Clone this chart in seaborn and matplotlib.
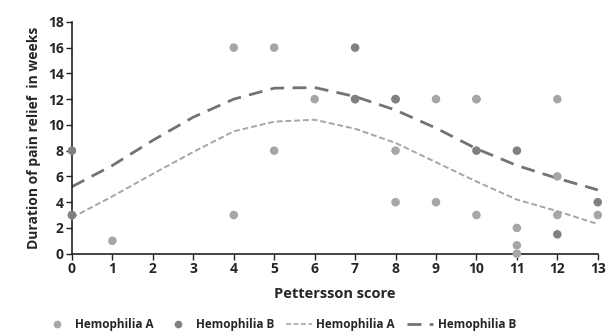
import matplotlib
matplotlib.use("Agg")
import matplotlib.pyplot as plt
import seaborn as sns
import pandas as pd
from matplotlib.lines import Line2D

# Scatter data
hemA_x = [0, 1, 4, 4, 5, 5, 6, 7, 8, 8, 8, 9, 9, 10, 10, 10, 11, 11, 11, 12, 12, 12, 13]
hemA_y = [3, 1, 16, 3, 16, 8, 12, 12, 8, 4, 12, 12, 4, 12, 3, 12, 2, 0.65, 0, 12, 6, 3, 3]
hemB_x = [0, 0, 7, 7, 8, 10, 11, 12, 13]
hemB_y = [8, 3, 16, 12, 12, 8, 8, 1.5, 4]

# Trend lines
trend_x = list(range(14))
trendA_y = [2.8, 4.45, 6.2, 7.9, 9.5, 10.25, 10.4, 9.7, 8.6, 7.1, 5.6, 4.2, 3.3, 2.3]
trendB_y = [5.2, 6.85, 8.8, 10.6, 12.0, 12.85, 12.9, 12.2, 11.15, 9.75, 8.15, 6.85, 5.85, 4.95]

x_ticks = list(range(14))
y_ticks = list(range(0, 19, 2))

colA = "#a6a6a6"
colB = "#808080"

sns.set_style("white")
plt.rcParams["font.family"] = ["Open Sans", "DejaVu Sans"]
plt.rcParams["font.weight"] = "bold"

fig, ax = plt.subplots(figsize=(6.15, 3.36), dpi=100)
fig.subplots_adjust(left=0.117, right=0.972, top=0.935, bottom=0.245)

dfA = pd.DataFrame({"x": hemA_x, "y": hemA_y})
dfB = pd.DataFrame({"x": hemB_x, "y": hemB_y})
dtA = pd.DataFrame({"x": trend_x, "y": trendA_y})
dtB = pd.DataFrame({"x": trend_x, "y": trendB_y})

sns.lineplot(data=dtA, x="x", y="y", ax=ax, color=colA, lw=1.4,
             linestyle=(0, (3, 1.5)), clip_on=False)
sns.lineplot(data=dtB, x="x", y="y", ax=ax, color="#737373", lw=2.0,
             linestyle=(0, (5, 3)), clip_on=False)
sns.scatterplot(data=dfA, x="x", y="y", ax=ax, color=colA, s=38,
                edgecolor="none", clip_on=False, zorder=3)
sns.scatterplot(data=dfB, x="x", y="y", ax=ax, color=colB, s=38,
                edgecolor="none", clip_on=False, zorder=4)

ax.set_xlim(0, 13)
ax.set_ylim(0, 18)
ax.set_xticks(x_ticks)
ax.set_yticks(y_ticks)
ax.tick_params(axis="both", labelsize=10, length=4, width=1, direction="out",
               color="#222222", bottom=True, left=True, pad=2)
for lab in ax.get_xticklabels() + ax.get_yticklabels():
    lab.set_fontweight("bold")
sns.despine(ax=ax)
for s in ["left", "bottom"]:
    ax.spines[s].set_color("#222222")
    ax.spines[s].set_linewidth(1.2)

ax.set_xlabel("Pettersson score", fontsize=10.5, fontweight="bold", labelpad=8)
ax.set_ylabel("Duration of pain relief  in weeks", fontsize=10, fontweight="bold", labelpad=5)

handles = [
    Line2D([], [], marker="o", color=colA, linestyle="none", markersize=4.5),
    Line2D([], [], marker="o", color=colB, linestyle="none", markersize=4.5),
    Line2D([], [], color=colA, lw=1.2, linestyle=(0, (3, 1.5))),
    Line2D([], [], color="#737373", lw=2.0, linestyle=(0, (5, 3))),
]
labels = ["Hemophilia A", "Hemophilia B", "Hemophilia A", "Hemophilia B"]
leg = fig.legend(handles, labels, loc="center", bbox_to_anchor=(0.455, 0.035),
                 ncol=4, frameon=False, fontsize=8.5, handlelength=2.2,
                 columnspacing=1.0, handletextpad=0.4)
for t in leg.get_texts():
    t.set_fontweight("bold")

fig.savefig("out.png", dpi=100)
